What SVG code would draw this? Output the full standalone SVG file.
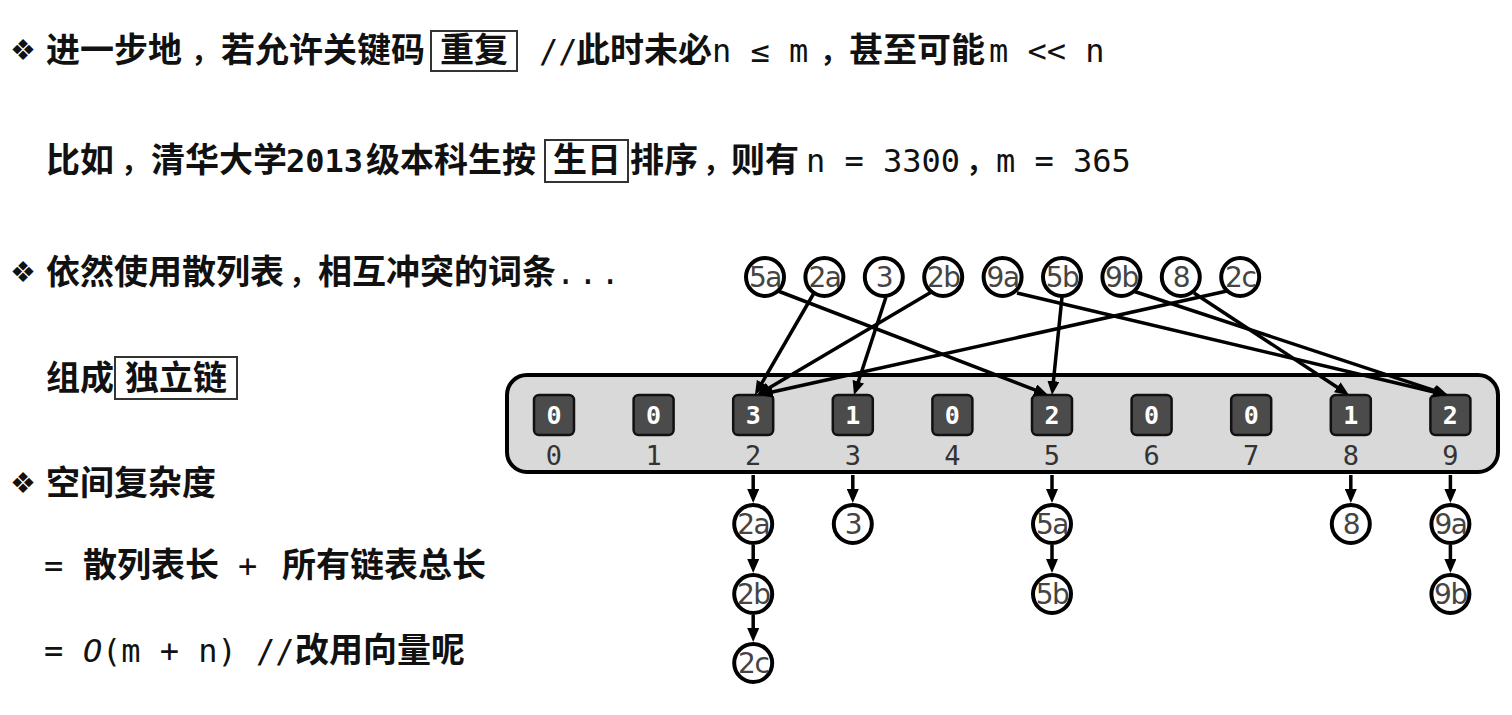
<svg xmlns="http://www.w3.org/2000/svg" width="1512" height="715" viewBox="0 0 1512 715">
  <style>
    .cjk { font-family: "Noto Sans CJK SC", "Noto Sans CJK TC", sans-serif; font-weight: 700; font-size: 34px; fill: #111; }
    .pun { font-family: "Noto Sans CJK SC", sans-serif; font-weight: 700; font-size: 28px; fill: #111; }
    .mono { font-family: "DejaVu Sans Mono", "Liberation Mono", monospace; font-size: 32px; fill: #111; }
    .monob { font-family: "DejaVu Sans Mono", "Liberation Mono", monospace; font-size: 32px; font-weight: 700; fill: #111; }
    .bul { font-family: "DejaVu Sans", sans-serif; font-size: 29px; fill: #111; }
    .kbox { fill: none; stroke: #333; stroke-width: 2; }
    .frame { fill: #d9d9d9; stroke: #000; stroke-width: 4; }
    .slot { fill: #4b4b4b; stroke: #111; stroke-width: 2.5; }
    .cnt { font-family: "DejaVu Sans Mono", monospace; font-weight: 700; font-size: 25px; fill: #fff; text-anchor: middle; }
    .idx { font-family: "DejaVu Sans Mono", monospace; font-size: 27px; fill: #333; text-anchor: middle; }
    .node circle { fill: #fff; stroke: #000; stroke-width: 4; }
    .node text { font-family: "DejaVu Sans", sans-serif; font-size: 28px; fill: #444; text-anchor: middle; letter-spacing: -1.5px; }
    .edge { stroke: #000; stroke-width: 3.5; fill: none; marker-end: url(#ah); }
  </style>
  <defs>
    <marker id="ah" viewBox="0 0 14 12" refX="4" refY="6" markerWidth="14" markerHeight="12" markerUnits="userSpaceOnUse" orient="auto">
      <path d="M0,0 L14,6 L0,12 z" fill="#000"/>
    </marker>
  </defs>
  <rect width="1512" height="715" fill="#fff"/>

  <!-- text column -->
  <g id="notes">
    <text class="bul" x="10" y="60">❖</text>
    <text class="cjk" x="46" y="62">进一步地</text>
    <text class="pun" x="191" y="62">，</text>
    <text class="cjk" x="221" y="62">若允许关键码</text>
    <rect class="kbox" x="431" y="31" width="86" height="40"/>
    <text class="cjk" x="440" y="62">重复</text>
    <text class="mono" x="539" y="62">//</text>
    <text class="cjk" x="576" y="62">此时未必</text>
    <text class="mono" x="712" y="62">n ≤ m</text>
    <text class="pun" x="820" y="62">，</text>
    <text class="cjk" x="849" y="62">甚至可能</text>
    <text class="mono" x="989" y="62">m &lt;&lt; n</text>

    <text class="cjk" x="46" y="172">比如</text>
    <text class="pun" x="121" y="172">，</text>
    <text class="cjk" x="151" y="172">清华大学</text>
    <text class="monob" x="286" y="172">2013</text>
    <text class="cjk" x="366" y="172">级本科生按</text>
    <rect class="kbox" x="545" y="140" width="83" height="42"/>
    <text class="cjk" x="553" y="172">生日</text>
    <text class="cjk" x="630" y="172">排序</text>
    <text class="pun" x="703" y="172">，</text>
    <text class="cjk" x="731" y="172">则有</text>
    <text class="mono" x="806" y="172">n = 3300</text>
    <text class="pun" x="966" y="172">，</text>
    <text class="mono" x="996" y="172">m = 365</text>

    <text class="bul" x="10" y="282">❖</text>
    <text class="cjk" x="46" y="284">依然使用散列表</text>
    <text class="pun" x="289" y="284">，</text>
    <text class="cjk" x="318" y="284">相互冲突的词条</text>
    <text class="mono" x="556" y="284" letter-spacing="3">...</text>

    <text class="cjk" x="46" y="390">组成</text>
    <rect class="kbox" x="115" y="357" width="122" height="42"/>
    <text class="cjk" x="125" y="390">独立链</text>

    <text class="bul" x="10" y="493">❖</text>
    <text class="cjk" x="46" y="495">空间复杂度</text>

    <text class="mono" x="44" y="577">=</text>
    <text class="cjk" x="83" y="577">散列表长</text>
    <text class="mono" x="238" y="577">+</text>
    <text class="cjk" x="282" y="577">所有链表总长</text>

    <text class="mono" x="44" y="662">=</text>
    <text class="mono" x="83" y="662" font-style="italic">O</text>
    <text class="mono" x="102" y="662">(m + n)</text>
    <text class="mono" x="256" y="662">//</text>
    <text class="cjk" x="295" y="662">改用向量呢</text>
  </g>

  <!-- bucket array -->
  <g id="table">
    <rect class="frame" x="507" y="375" width="991" height="97" rx="20"/>
    <g id="bucket0"><rect class="slot" x="534" y="395" width="40" height="40" rx="5"/><text class="cnt" x="554" y="424">0</text><text class="idx" x="554" y="465">0</text></g>
    <g id="bucket1"><rect class="slot" x="633.6" y="395" width="40" height="40" rx="5"/><text class="cnt" x="653.6" y="424">0</text><text class="idx" x="653.6" y="465">1</text></g>
    <g id="bucket2"><rect class="slot" x="733.2" y="395" width="40" height="40" rx="5"/><text class="cnt" x="753.2" y="424">3</text><text class="idx" x="753.2" y="465">2</text></g>
    <g id="bucket3"><rect class="slot" x="832.8" y="395" width="40" height="40" rx="5"/><text class="cnt" x="852.8" y="424">1</text><text class="idx" x="852.8" y="465">3</text></g>
    <g id="bucket4"><rect class="slot" x="932.4" y="395" width="40" height="40" rx="5"/><text class="cnt" x="952.4" y="424">0</text><text class="idx" x="952.4" y="465">4</text></g>
    <g id="bucket5"><rect class="slot" x="1032" y="395" width="40" height="40" rx="5"/><text class="cnt" x="1052" y="424">2</text><text class="idx" x="1052" y="465">5</text></g>
    <g id="bucket6"><rect class="slot" x="1131.6" y="395" width="40" height="40" rx="5"/><text class="cnt" x="1151.6" y="424">0</text><text class="idx" x="1151.6" y="465">6</text></g>
    <g id="bucket7"><rect class="slot" x="1231.2" y="395" width="40" height="40" rx="5"/><text class="cnt" x="1251.2" y="424">0</text><text class="idx" x="1251.2" y="465">7</text></g>
    <g id="bucket8"><rect class="slot" x="1330.8" y="395" width="40" height="40" rx="5"/><text class="cnt" x="1350.8" y="424">1</text><text class="idx" x="1350.8" y="465">8</text></g>
    <g id="bucket9"><rect class="slot" x="1430.4" y="395" width="40" height="40" rx="5"/><text class="cnt" x="1450.4" y="424">2</text><text class="idx" x="1450.4" y="465">9</text></g>
  </g>

  <!-- connectors -->
  <g id="connectors">
    <line class="edge" x1="778" y1="291" x2="1038.7" y2="391.4"/>
    <line class="edge" x1="814" y1="293" x2="760" y2="386.3"/>
    <line class="edge" x1="886" y1="297" x2="857.1" y2="385.5"/>
    <line class="edge" x1="933" y1="291" x2="765.6" y2="389.9"/>
    <line class="edge" x1="1017" y1="293" x2="1437.3" y2="392.7"/>
    <line class="edge" x1="1062" y1="297" x2="1053" y2="385.1"/>
    <line class="edge" x1="1130" y1="290" x2="1438.5" y2="391.9"/>
    <line class="edge" x1="1194" y1="293" x2="1340.6" y2="389.5"/>
    <line class="edge" x1="1227" y1="291" x2="768.8" y2="392.8"/>

    <line class="edge" x1="753.2" y1="475" x2="753.2" y2="493"/>
    <line class="edge" x1="753.2" y1="545" x2="753.2" y2="563"/>
    <line class="edge" x1="753.2" y1="615" x2="753.2" y2="632"/>
    <line class="edge" x1="852.8" y1="475" x2="852.8" y2="493"/>
    <line class="edge" x1="1052" y1="475" x2="1052" y2="493"/>
    <line class="edge" x1="1052" y1="545" x2="1052" y2="563"/>
    <line class="edge" x1="1350.8" y1="475" x2="1350.8" y2="493"/>
    <line class="edge" x1="1450.4" y1="475" x2="1450.4" y2="493"/>
    <line class="edge" x1="1450.4" y1="545" x2="1450.4" y2="563"/>
  </g>

  <!-- incoming entries -->
  <g id="in-5a" class="node"><circle cx="765" cy="277" r="19"/><text x="765" y="287">5a</text></g>
  <g id="in-2a" class="node"><circle cx="824.4" cy="277" r="19"/><text x="824.4" y="287">2a</text></g>
  <g id="in-3" class="node"><circle cx="883.8" cy="277" r="19"/><text x="883.8" y="287">3</text></g>
  <g id="in-2b" class="node"><circle cx="943.2" cy="277" r="19"/><text x="943.2" y="287">2b</text></g>
  <g id="in-9a" class="node"><circle cx="1002.6" cy="277" r="19"/><text x="1002.6" y="287">9a</text></g>
  <g id="in-5b" class="node"><circle cx="1062" cy="277" r="19"/><text x="1062" y="287">5b</text></g>
  <g id="in-9b" class="node"><circle cx="1121.4" cy="277" r="19"/><text x="1121.4" y="287">9b</text></g>
  <g id="in-8" class="node"><circle cx="1180.8" cy="277" r="19"/><text x="1180.8" y="287">8</text></g>
  <g id="in-2c" class="node"><circle cx="1240.2" cy="277" r="19"/><text x="1240.2" y="287">2c</text></g>

  <!-- chained entries -->
  <g id="ch-2a" class="node"><circle cx="753.2" cy="524" r="19"/><text x="753.2" y="534">2a</text></g>
  <g id="ch-2b" class="node"><circle cx="753.2" cy="594" r="19"/><text x="753.2" y="604">2b</text></g>
  <g id="ch-2c" class="node"><circle cx="753.2" cy="663" r="19"/><text x="753.2" y="673">2c</text></g>
  <g id="ch-3" class="node"><circle cx="852.8" cy="524" r="19"/><text x="852.8" y="534">3</text></g>
  <g id="ch-5a" class="node"><circle cx="1052" cy="524" r="19"/><text x="1052" y="534">5a</text></g>
  <g id="ch-5b" class="node"><circle cx="1052" cy="594" r="19"/><text x="1052" y="604">5b</text></g>
  <g id="ch-8" class="node"><circle cx="1350.8" cy="524" r="19"/><text x="1350.8" y="534">8</text></g>
  <g id="ch-9a" class="node"><circle cx="1450.4" cy="524" r="19"/><text x="1450.4" y="534">9a</text></g>
  <g id="ch-9b" class="node"><circle cx="1450.4" cy="594" r="19"/><text x="1450.4" y="604">9b</text></g>
</svg>
